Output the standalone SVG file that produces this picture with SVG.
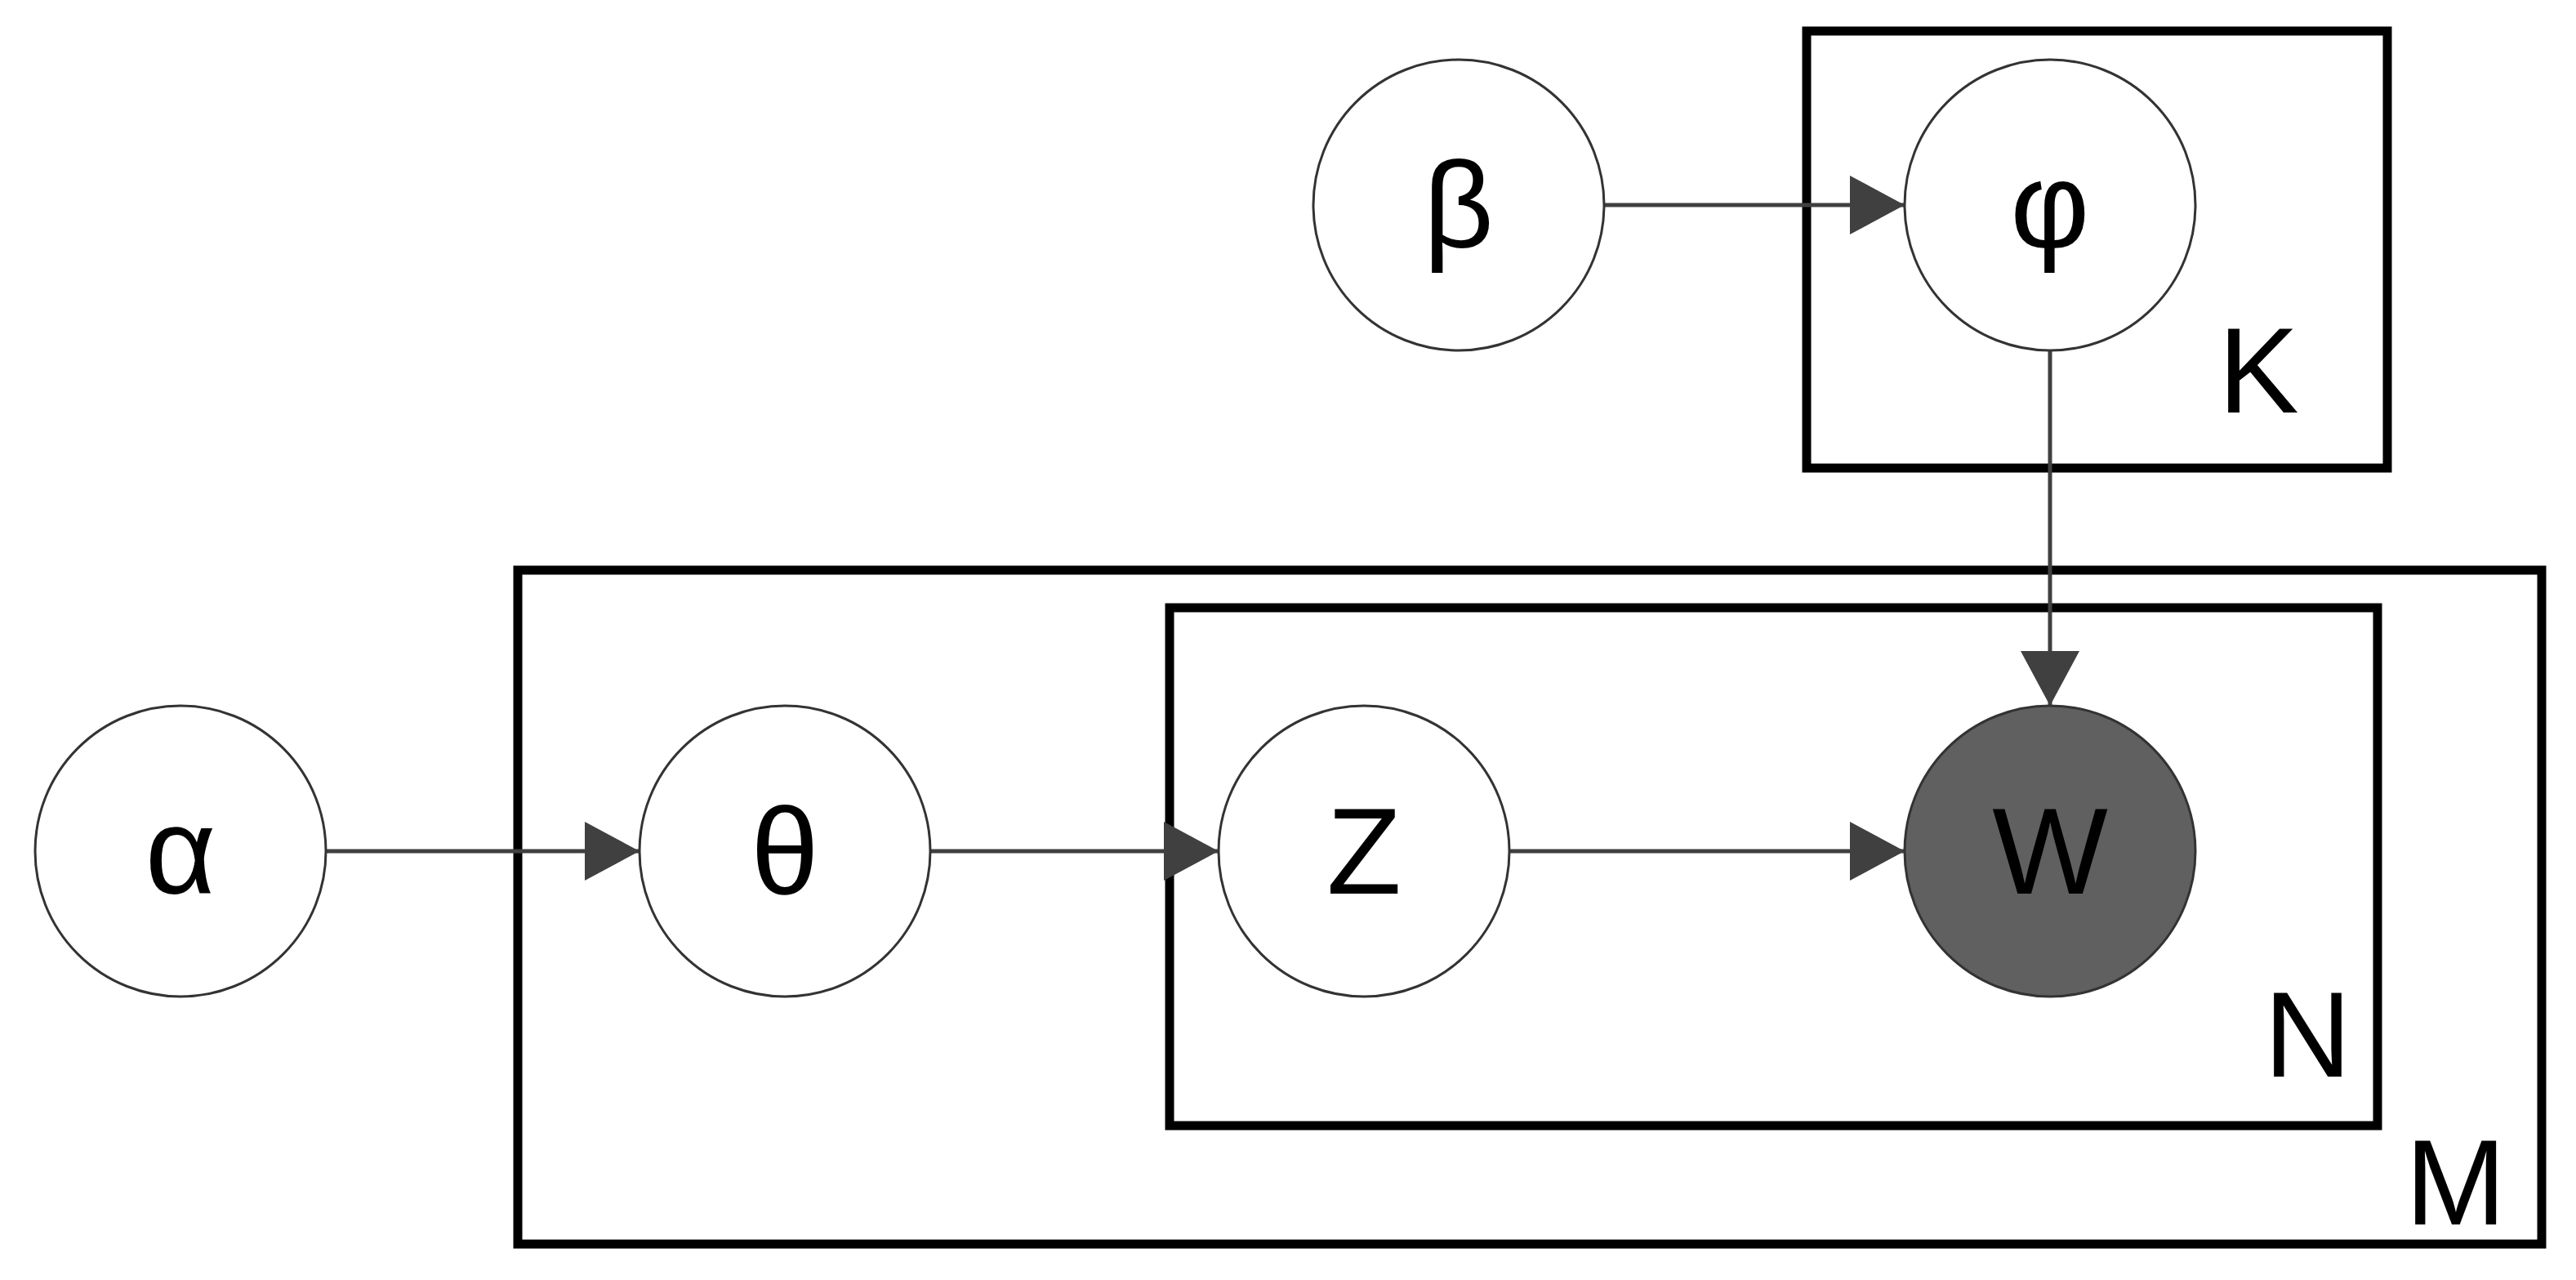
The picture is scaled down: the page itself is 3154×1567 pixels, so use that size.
<svg xmlns="http://www.w3.org/2000/svg" width="3154" height="1567" viewBox="0 0 3154 1567">
<style>
.n{fill:#fff;stroke:#333;stroke-width:3}
.p{fill:none;stroke:#000;stroke-width:11}
.t{font-family:"Liberation Sans",Arial,sans-serif;font-size:150px;fill:#000;text-anchor:middle;dominant-baseline:central}
.l{font-family:"Liberation Sans",Arial,sans-serif;font-size:148px;fill:#000}
.e{stroke:#404040;stroke-width:5;marker-end:url(#a)}
</style>
<defs><marker id="a" markerUnits="userSpaceOnUse" markerWidth="68" markerHeight="72" refX="67" refY="36" orient="auto"><path d="M0,0 L67,36 L0,72 Z" fill="#404040"/></marker></defs>
<rect width="3154" height="1567" fill="#fff"/>
<g id="plateK"><rect class="p" x="2212" y="38" width="711" height="535"/><text class="l" x="2716" y="505">K</text></g>
<g id="plateM"><rect class="p" x="634" y="698" width="2478" height="825"/><text class="l" x="2945" y="1499">M</text></g>
<g id="plateN"><rect class="p" x="1432" y="744" width="1479" height="634"/><text class="l" x="2772" y="1318">N</text></g>
<g id="connectors">
<line class="e" x1="1964" y1="251" x2="2332" y2="251"/>
<line class="e" x1="2510" y1="429" x2="2510" y2="864"/>
<line class="e" x1="399" y1="1042" x2="783" y2="1042"/>
<line class="e" x1="1139" y1="1042" x2="1492" y2="1042"/>
<line class="e" x1="1848" y1="1042" x2="2332" y2="1042"/>
</g>
<g id="beta"><circle class="n" cx="1786" cy="251" r="178"/><text class="t" x="1786" y="251">β</text></g>
<g id="phi"><circle class="n" cx="2510" cy="251" r="178"/><text class="t" x="2510" y="251">φ</text></g>
<g id="alpha"><circle class="n" cx="221" cy="1042" r="178"/><text class="t" x="221" y="1042">α</text></g>
<g id="theta"><circle class="n" cx="961" cy="1042" r="178"/><text class="t" x="961" y="1042">θ</text></g>
<g id="Z"><circle class="n" cx="1670" cy="1042" r="178"/><text class="t" x="1670" y="1042">Z</text></g>
<g id="W"><circle class="n" cx="2510" cy="1042" r="178" style="fill:#606060"/><text class="t" x="2510" y="1042">W</text></g>
</svg>
